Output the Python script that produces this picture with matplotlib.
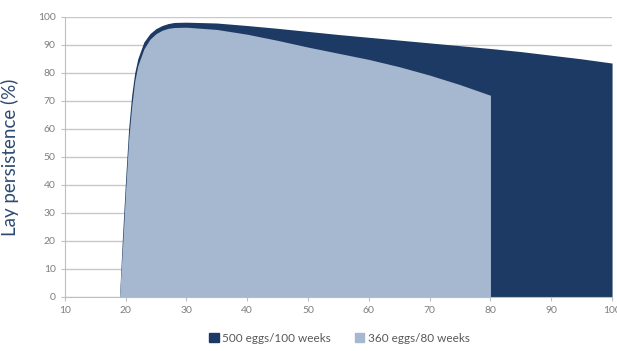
import numpy as np
import matplotlib.pyplot as plt
from matplotlib.patches import Patch

plt.rcParams['font.family'] = ['Lato', 'DejaVu Sans']

# weeks of age and lay persistence (%) for the two flock programmes
weeks_500 = [19, 19.5, 20, 20.5, 21, 21.5, 22, 23, 24, 25, 26, 27, 28, 30, 35, 40, 45, 50,
             55, 60, 65, 70, 75, 80, 85, 90, 95, 100]
lay_500 = [0, 22, 42, 60, 72, 80, 85, 91, 94, 95.8, 96.9, 97.6, 98, 98.1, 97.8, 96.9, 95.9,
           94.8, 93.7, 92.7, 91.7, 90.7, 89.7, 88.7, 87.6, 86.3, 85, 83.5]

weeks_360 = [19, 19.5, 20, 20.5, 21, 21.5, 22, 23, 24, 25, 26, 27, 28, 30, 35, 40, 45, 50,
             55, 60, 65, 70, 75, 80]
lay_360 = [0, 18, 38, 56, 68, 77, 82.5, 88.5, 92, 94, 95.2, 95.9, 96.2, 96.3, 95.5, 93.8,
           91.6, 89.2, 87, 84.8, 82.2, 79.2, 75.8, 72]

dark = '#1c3a63'
light = '#a6b8d0'
grey = '#7f7f7f'

fig = plt.figure(figsize=(6.17, 3.51), dpi=100)
ax = fig.add_axes([0.105, 0.154, 0.887, 0.798])

ax.fill_between(weeks_500, lay_500, color=dark, linewidth=0, zorder=2)
ax.fill_between(weeks_360, lay_360, color=light, linewidth=0, zorder=3)

ax.set_xlim(10, 100)
ax.set_ylim(0, 100)
ax.set_xticks(range(10, 101, 10))
ax.set_yticks(range(0, 101, 10))
ax.grid(axis='y', color='#c8c8c8', linewidth=1)
ax.set_axisbelow(True)

for s in ['top', 'right']:
    ax.spines[s].set_visible(False)
for s in ['left', 'bottom']:
    ax.spines[s].set_color('#bfbfbf')
ax.tick_params(colors='#bfbfbf', labelcolor=grey, labelsize=7.5, length=3)

ax.set_ylabel('Lay persistence (%)', fontsize=13.5, color='#2e4a70', labelpad=14)

handles = [Patch(color=dark, label='500 eggs/100 weeks'),
           Patch(color=light, label='360 eggs/80 weeks')]
fig.legend(handles=handles, loc='lower center', bbox_to_anchor=(0.55, -0.01), ncol=2,
           frameon=False, fontsize=8.5, handlelength=0.8, handleheight=0.8,
           handletextpad=0.3, columnspacing=2.0, labelcolor='#595959')

fig.savefig('out.png', dpi=100)
